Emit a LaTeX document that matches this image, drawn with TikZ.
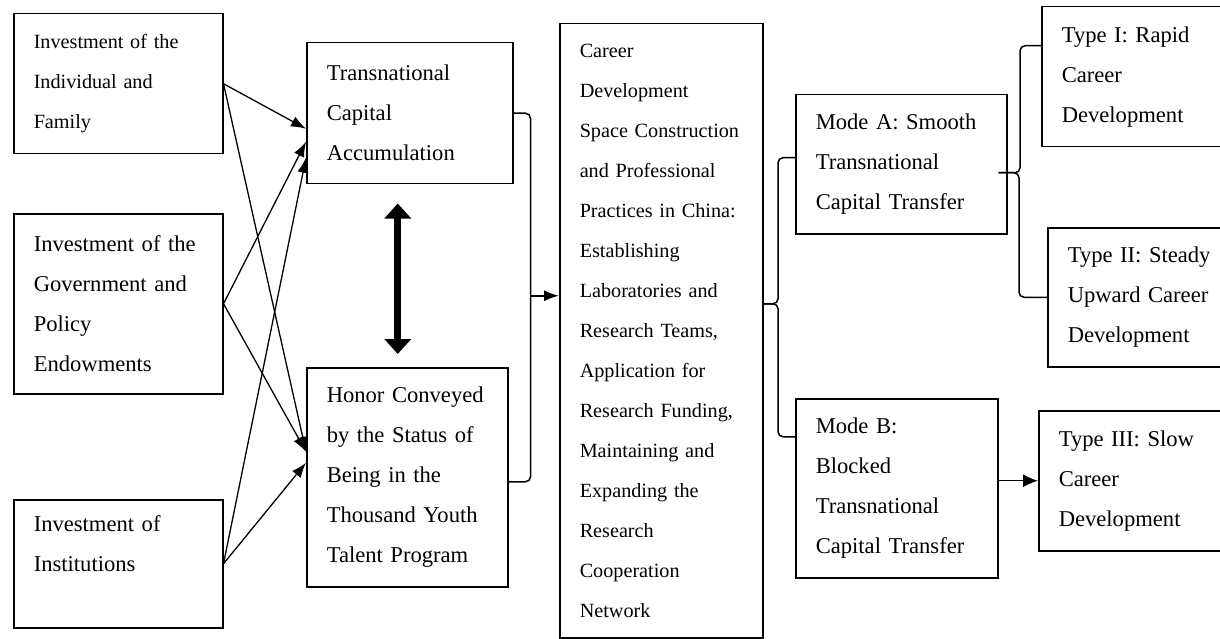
\documentclass[tikz,border=0pt]{standalone}
\usepackage{fontspec}
\setmainfont{Liberation Serif}
\usetikzlibrary{arrows.meta}
\newcommand\bigtext{\fontsize{22.6}{40}\selectfont}
\newcommand\smalltext{\fontsize{20.2}{40}\selectfont}
\newcommand\feed[2]{\path[feed] (#1) -- (#2);}

\begin{document}
\begin{tikzpicture}[x=1pt,y=-1pt]
\tikzstyle{block}=[draw,line width=1.5pt,anchor=north west,align=left,inner xsep=20pt,inner ysep=0pt,font=\bigtext]
\tikzstyle{feed}=[draw,line width=1.3pt,-{Latex[length=15pt,width=11pt]}]
\tikzstyle{brace}=[draw,line width=1.5pt,rounded corners=5pt]
\tikzstyle{bothway}=[draw,line width=7pt,{Triangle[length=15pt,width=26pt]}-{Triangle[length=15pt,width=26pt]}]
\useasboundingbox (0,0) rectangle (1220,639);

%% sources
\node[block,font=\smalltext,text width=169pt,minimum height=140pt] (indiv) at (13,13) {Investment of the\\Individual and\\Family};
\node[block,text width=169pt,minimum height=180pt] (gov) at (13,213) {Investment of the\\Government and\\Policy\\Endowments};
\node[block,text width=169pt,minimum height=128pt] (inst) at (13,499) {Investment of\\Institutions\\\mbox{}};

%% capital
\node[block,text width=166pt,minimum height=141pt] (accum) at (306,42) {Transnational\\Capital\\Accumulation};
\node[block,text width=161pt,minimum height=219pt] (honor) at (306,367) {Honor Conveyed\\by the Status of\\Being in the\\Thousand Youth\\Talent Program};

%% practices
\node[block,font=\smalltext,text width=163pt,minimum height=614pt] (career) at (559,23) {Career\\Development\\Space Construction\\and Professional\\Practices in China:\\Establishing\\Laboratories and\\Research Teams,\\Application for\\Research Funding,\\Maintaining and\\Expanding the\\Research\\Cooperation\\Network};

%% modes and types
\node[block,text width=171pt,minimum height=139pt] (modeA) at (795,94) {Mode A: Smooth\\Transnational\\Capital Transfer};
\node[block,text width=162pt,minimum height=179pt] (modeB) at (795,398) {Mode B:\\Blocked\\Transnational\\Capital Transfer};
\node[block,text width=159pt,minimum height=140pt] (typeI) at (1041,6) {Type I: Rapid\\Career\\Development};
\node[block,text width=153pt,minimum height=139pt] (typeII) at (1047,227) {Type II: Steady\\Upward Career\\Development};
\node[block,text width=162pt,minimum height=140pt] (typeIII) at (1038,410) {Type III: Slow\\Career\\Development};

%% connections

\feed{indiv.east}{[yshift=-15.5pt]accum.west}
\feed{gov.east}{[yshift=-28.5pt]accum.west}
\feed{inst.east}{[yshift=-44.5pt]accum.west}
\feed{indiv.east}{[yshift=25.5pt]honor.west}
\feed{gov.east}{[yshift=25.5pt]honor.west}
\feed{inst.east}{[yshift=14.5pt]honor.west}

\coordinate (up) at ([shift={(-12,19)}]accum.south);
\coordinate (down) at (up |- honor.north);
\path[bothway] (up) -- ([yshift=13pt]down);

\path[brace] (accum.east) -| ([xshift=22pt,yshift=-4.5pt]honor.east) -- ([yshift=-4.5pt]honor.east);
\coordinate (bend) at ([xshift=17pt]accum.east);
\coordinate (into) at ([yshift=35pt]career.west);
\path[feed,line width=2pt] (bend |- into) -- (into);

\path[brace] ([yshift=27pt]career.east) -| ([xshift=-17pt,yshift=6.5pt]modeA.west) -- ([yshift=6.5pt]modeA.west);
\path[brace] ([yshift=27pt]career.east) -| ([xshift=-17pt,yshift=51.5pt]modeB.west) -- ([yshift=51.5pt]modeB.west);

\coordinate (split) at ([shift={(-9,8.5)}]modeA.east);
\path[brace] (split) -| ([xshift=-21pt,yshift=31pt]typeI.west) -- ([yshift=31pt]typeI.west);
\path[brace] (split) -| ([xshift=-28pt]typeII.west) -- (typeII.west);

\path[feed,-{Latex[length=15pt,width=13pt]}] (typeIII.west -| modeB.east) -- (typeIII.west);
\end{tikzpicture}
\end{document}
